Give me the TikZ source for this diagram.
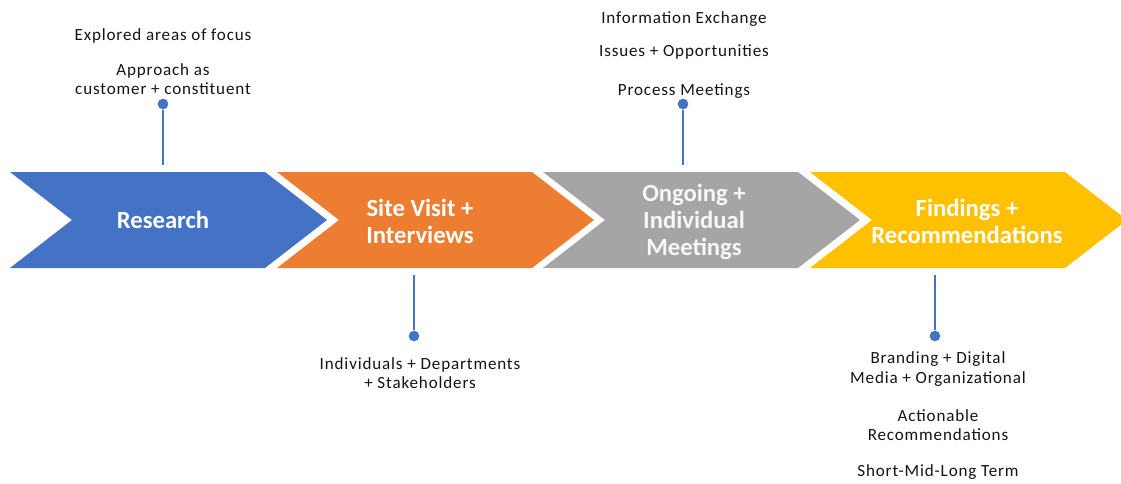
\documentclass[tikz,border=0pt]{standalone}
\usepackage{fontspec}
\setmainfont{Carlito}
\newfontfamily\notefont[LetterSpace=5]{Carlito}
\definecolor{cblue}{HTML}{4472C4}
\definecolor{corange}{HTML}{ED7D31}
\definecolor{cgray}{HTML}{A5A5A5}
\definecolor{cyellow}{HTML}{FFC000}
\definecolor{txt}{HTML}{141414}
\tikzset{
	stage/.style={text=white, font=\bfseries\fontsize{18.5}{20.3}\selectfont, align=center},
	note/.style={text=txt, font=\notefont\fontsize{12.8}{14.6}\selectfont, align=center},
	dot/.style={circle, fill=cblue, inner sep=0pt, minimum size=8},
	pin/.style={cblue, line width=1.5},
}
\begin{document}
\begin{tikzpicture}[x=0.75pt,y=-0.75pt]
	\useasboundingbox (0,0) rectangle (1121,483);
	% chevrons
	\foreach \x/\c in {10/cblue,277/corange,543/cgray,810/cyellow}
		\fill[\c] (\x,172) -- ++(255,0) -- ++(62,48) -- ++(-62,48) -- ++(-255,0) -- ++(62,-48) -- cycle;
	\node[stage] (research) at (163,220) {Research};
	\node[stage] (visit) at (420,221) {Site Visit +\\Interviews};
	\node[stage, text=white!94!gray] (ongoing) at (694,222) {Ongoing +\\Individual\\Meetings};
	\node[stage] (findings) at (967,221) {Findings +\\Recommendations};
	% pins
	\node[dot] (d1) at (163,104) {};
	\coordinate (t1) at (163,165);
	\draw[pin] (d1) -- (t1);
	\node[dot] (d2) at (414,336) {};
	\coordinate (t2) at (414,275);
	\draw[pin] (d2) -- (t2);
	\node[dot] (d3) at (683,104) {};
	\coordinate (t3) at (683,165);
	\draw[pin] (d3) -- (t3);
	\node[dot] (d4) at (935,336) {};
	\coordinate (t4) at (935,275);
	\draw[pin] (d4) -- (t4);
	% notes
	\node[note] (explored) at (163,36) {Explored areas of focus};
	\node[note] (approach) at (163,79) {Approach as\\customer + constituent};
	\node[note] (info) at (684,19) {Information Exchange};
	\node[note] (issues) at (684,52) {Issues + Opportunities};
	\node[note] (process) at (684,91) {Process Meetings};
	\node[note] (people) at (420,373) {Individuals + Departments\\+ Stakeholders};
	\node[note] (branding) at (938,369) {Branding + Digital\\Media + Organizational};
	\node[note] (actionable) at (938,425) {Actionable\\Recommendations};
	\node[note] (term) at (938,472) {Short-Mid-Long Term};
\end{tikzpicture}
\end{document}
